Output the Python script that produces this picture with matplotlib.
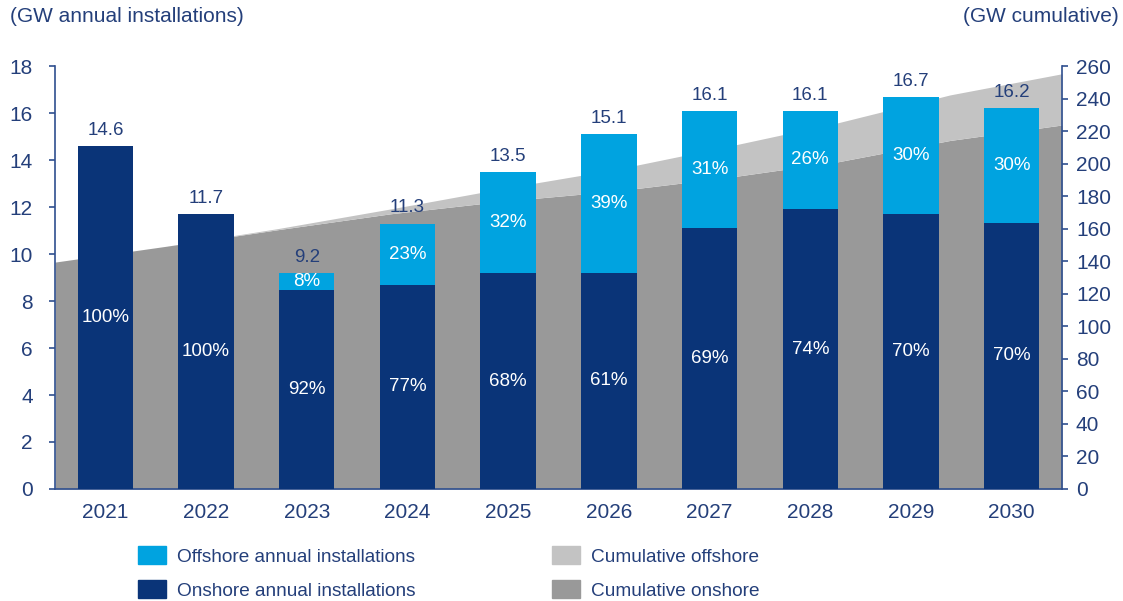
import numpy as np
import matplotlib.pyplot as plt
from matplotlib.patches import Patch

plt.rcParams['font.family'] = ['Liberation Sans', 'DejaVu Sans']

years = ['2021', '2022', '2023', '2024', '2025', '2026', '2027', '2028', '2029', '2030']
total = [14.6, 11.7, 9.2, 11.3, 13.5, 15.1, 16.1, 16.1, 16.7, 16.2]
onshore_pct = [100, 100, 92, 77, 68, 61, 69, 74, 70, 70]
offshore_pct = [0, 0, 8, 23, 32, 39, 31, 26, 30, 30]

# cumulative capacity (GW), right axis
cum_onshore = [139.5, 149.3, 159.5, 169.2, 176.9, 183.1, 191.4, 201.2, 214.3, 223.8]
cum_offshore = [0.0, 0.0, 0.7, 3.0, 7.8, 13.2, 19.0, 24.0, 28.0, 31.5]

NAVY = '#0a3478'
CYAN = '#00a3e0'
GREY = '#999999'
LGREY = '#c3c3c3'
TXT = '#243f7a'
SPINE = '#2f4f8f'

total = np.array(total)
onshore = total * np.array(onshore_pct) / 100
offshore = total - onshore
x = np.arange(len(years))

fig = plt.figure(figsize=(11.23, 6.01), dpi=100)
ax = fig.add_axes([0.049, 0.1864, 0.8967, 0.7036])
ax2 = ax.twinx()
ax.set_zorder(ax2.get_zorder() + 1)
ax.patch.set_visible(False)

# cumulative areas span the full width of the plot
xa = np.linspace(-0.5, 9.5, len(years))
con = np.array(cum_onshore)
coff = np.array(cum_offshore)
ax2.fill_between(xa, 0, con, color=GREY, lw=0)
ax2.fill_between(xa, con, con + coff, color=LGREY, lw=0)
ax2.set_ylim(0, 260)
ax2.set_yticks(range(0, 261, 20))

w = 0.55
ax.bar(x, onshore, w, color=NAVY, zorder=3)
ax.bar(x, offshore, w, bottom=onshore, color=CYAN, zorder=3)

for i in x:
    ax.text(i, total[i] + 0.3, f'{total[i]:.1f}', ha='center', va='bottom',
            fontsize=13.5, color=TXT)
    ax.text(i, onshore[i] / 2, f'{onshore_pct[i]}%', ha='center', va='center',
            fontsize=13.5, color='white', zorder=4)
    if offshore_pct[i] > 0:
        ax.text(i, onshore[i] + offshore[i] / 2, f'{offshore_pct[i]}%', ha='center',
                va='center', fontsize=13.5, color='white', zorder=4)

ax.set_xlim(-0.5, 9.5)
ax.set_ylim(0, 18)
ax.set_yticks(range(0, 19, 2))
ax.set_xticks(x)
ax.set_xticklabels(years)

for a in (ax, ax2):
    for s in a.spines.values():
        s.set_color(SPINE)
        s.set_linewidth(1.2)
    a.spines['top'].set_visible(False)
ax.spines['right'].set_visible(False)
ax2.spines['left'].set_visible(False)
ax2.spines['bottom'].set_visible(False)

ax.tick_params(axis='x', length=0, pad=10, labelsize=15, labelcolor=TXT)
ax.tick_params(axis='y', length=4, width=1.2, color=SPINE, pad=12, labelsize=15,
               labelcolor=TXT)
ax2.tick_params(axis='y', length=4, width=1.2, color=SPINE, pad=6, labelsize=15,
                labelcolor=TXT)

fig.text(0.009, 0.972, '(GW annual installations)', ha='left', va='center',
         fontsize=15, color=TXT)
fig.text(0.996, 0.972, '(GW cumulative)', ha='right', va='center',
         fontsize=15, color=TXT)

handles = [Patch(color=CYAN), Patch(color=NAVY), Patch(color=LGREY), Patch(color=GREY)]
labels = ['Offshore annual installations', 'Onshore annual installations',
          'Cumulative offshore', 'Cumulative onshore']
leg = fig.legend(handles, labels, ncol=2, loc='upper left',
                 bbox_to_anchor=(0.123, 0.091), frameon=False, fontsize=13.7,
                 handlelength=1.47, handleheight=1.05, handletextpad=0.55,
                 columnspacing=7.2, labelspacing=0.77, borderaxespad=0,
                 borderpad=0)
for t in leg.get_texts():
    t.set_color(TXT)

fig.savefig('out.png', dpi=100)
